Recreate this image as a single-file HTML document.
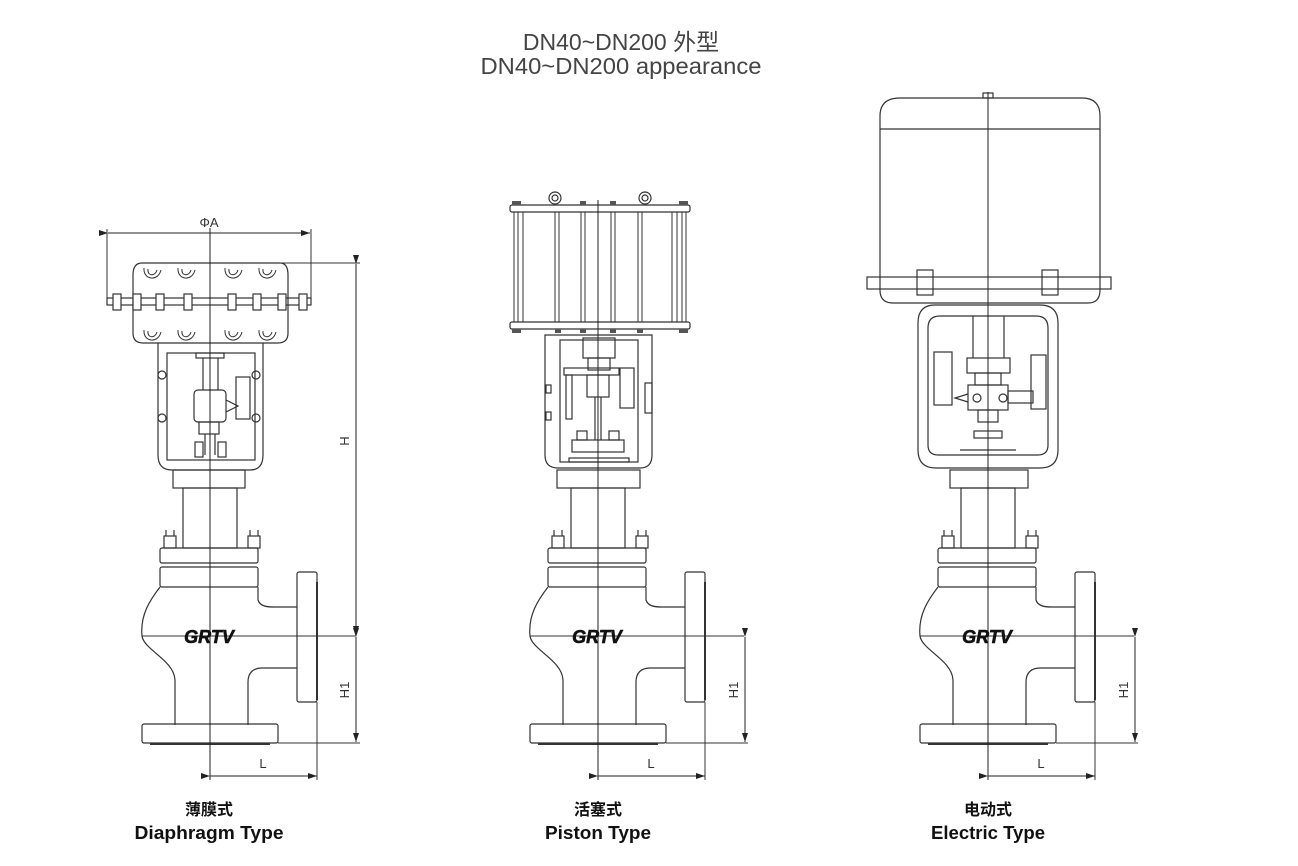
<!DOCTYPE html>
<html><head><meta charset="utf-8"><style>
html,body{margin:0;padding:0;background:#fff;width:1298px;height:866px;overflow:hidden}
svg{display:block}
text{font-family:"Liberation Sans","Noto Sans CJK SC",sans-serif}
</style></head><body>
<svg width="1298" height="866" viewBox="0 0 1298 866" xmlns="http://www.w3.org/2000/svg">
<defs>
<marker id="ar" markerWidth="10" markerHeight="8" refX="9" refY="4" orient="auto" markerUnits="userSpaceOnUse"><path d="M0,1 L9,4 L0,7 Z" fill="#222"/></marker>
<path id="loop" d="M-8,-6 C-9,6 6,8 9,-4 M-4,-5 C-5,2 3,3 5,-4" fill="none" stroke="#333" stroke-width="1"/>
<g id="body" fill="none" stroke="#333" stroke-width="1.2">
  <rect x="-27" y="488" width="54" height="60"/>
  <rect x="-50" y="548" width="98" height="15" rx="2"/>
  <rect x="-46" y="536" width="12" height="12"/><rect x="38" y="536" width="12" height="12"/>
  <line x1="-44" y1="530" x2="-44" y2="536"/><line x1="-36" y1="530" x2="-36" y2="536"/>
  <line x1="40" y1="530" x2="40" y2="536"/><line x1="48" y1="530" x2="48" y2="536"/>
  <rect x="-50" y="567" width="98" height="20" rx="2"/>
  <path d="M-50,587 C-60,600 -70,615 -68,636 C-66,650 -36,660 -35,680 L-35,725"/>
  <path d="M48,587 L48,600 C50,606 56,607 64,607 L87,607"/>
  <path d="M87,668 L52,668 C44,668 38,672 38,682 L38,725"/>
  <rect x="87" y="572" width="20" height="130" rx="2"/>
  <line x1="107" y1="582" x2="107" y2="700" stroke-width="2"/>
  <rect x="-68" y="724" width="136" height="19" rx="2"/>
  <line x1="-60" y1="744" x2="60" y2="744" stroke-width="2"/>
  <line x1="-68" y1="636" x2="146" y2="636" stroke-width="1"/>
  <line x1="107" y1="702" x2="107" y2="780" stroke-width="1"/>
  <line x1="68" y1="743" x2="150" y2="743" stroke-width="1"/>
  <line x1="0" y1="776" x2="107" y2="776" stroke="#222" stroke-width="1" marker-start="url(#ar)" marker-end="url(#ar)"/>
</g>
</defs>

<text x="621" y="50" font-size="23" text-anchor="middle" fill="#444">DN40~DN200 外型</text>
<text x="621" y="74" font-size="23" text-anchor="middle" fill="#444" textLength="281" lengthAdjust="spacingAndGlyphs">DN40~DN200 appearance</text>

<!-- Diaphragm -->
<g transform="translate(210,0)"><use href="#body"/></g>
<g fill="none" stroke="#333" stroke-width="1.2">
  <rect x="173" y="470" width="72" height="18"/>
  <path d="M158,343 L158,455 Q158,470 172,470 L250,470 Q263,470 263,455 L263,343"/>
  <rect x="167" y="353" width="88" height="107"/>
  <rect x="196" y="353" width="28" height="5"/>
  <line x1="203" y1="358" x2="203" y2="390"/><line x1="218" y1="358" x2="218" y2="390"/>
  <rect x="194" y="390" width="32" height="32" rx="4"/>
  <path d="M226,400 L238,406 L226,412"/>
  <rect x="236" y="377" width="14" height="42"/>
  <rect x="199" y="422" width="20" height="12"/>
  <line x1="205" y1="434" x2="205" y2="455"/><line x1="215" y1="434" x2="215" y2="455"/>
  <rect x="195" y="442" width="8" height="15"/><rect x="218" y="442" width="8" height="15"/>
  <circle cx="162" cy="375" r="4"/><circle cx="162" cy="418" r="4"/>
  <circle cx="256" cy="375" r="4"/><circle cx="256" cy="418" r="4"/>
  <path d="M142,263 L280,263 Q288,263 288,275 L288,333 Q288,343 278,343 L143,343 Q133,343 133,333 L133,275 Q133,263 142,263 Z"/>
  <rect x="107" y="298" width="204" height="7"/>
  <g fill="#fff">
   <rect x="113" y="294" width="8" height="16"/><rect x="133" y="294" width="8" height="16"/>
   <rect x="156" y="294" width="8" height="16"/><rect x="184" y="294" width="8" height="16"/>
   <rect x="228" y="294" width="8" height="16"/><rect x="253" y="294" width="8" height="16"/>
   <rect x="278" y="294" width="8" height="16"/><rect x="299" y="294" width="8" height="16"/>
  </g>
  <line x1="107" y1="229" x2="107" y2="300" stroke-width="1"/>
  <line x1="311" y1="229" x2="311" y2="300" stroke-width="1"/>
  <line x1="108" y1="233" x2="310" y2="233" stroke="#222" stroke-width="1" marker-start="url(#ar)" marker-end="url(#ar)"/>
  <line x1="210" y1="263" x2="360" y2="263" stroke-width="1"/>
  <line x1="356" y1="264" x2="356" y2="635" stroke="#222" stroke-width="1" marker-start="url(#ar)" marker-end="url(#ar)"/>
  <line x1="356" y1="637" x2="356" y2="742" stroke="#222" stroke-width="1" marker-start="url(#ar)" marker-end="url(#ar)"/>
  <line x1="210" y1="228" x2="210" y2="780" stroke="#222" stroke-width="1"/>
</g>
<use href="#loop" x="152" y="274"/><use href="#loop" x="186" y="274"/><use href="#loop" x="233" y="274"/><use href="#loop" x="267" y="274"/>
<use href="#loop" x="152" y="336"/><use href="#loop" x="186" y="336"/><use href="#loop" x="233" y="336"/><use href="#loop" x="267" y="336"/>
<text x="209" y="227" font-size="13" text-anchor="middle" fill="#333">ΦA</text>
<text transform="translate(349,441) rotate(-90)" font-size="13" text-anchor="middle" fill="#333">H</text>
<text transform="translate(349,690) rotate(-90)" font-size="13" text-anchor="middle" fill="#333">H1</text>
<text x="263" y="768" font-size="13" text-anchor="middle" fill="#333">L</text>
<text x="209" y="643" font-size="18" font-weight="bold" font-style="italic" text-anchor="middle" fill="#111" stroke="#111" stroke-width="0.6">GRTV</text>

<!-- Piston -->
<g transform="translate(598,0)"><use href="#body"/></g>
<g fill="none" stroke="#333" stroke-width="1.2">
  <rect x="557" y="470" width="83" height="18"/>
  <path d="M545,335 L545,455 Q545,468 558,468 L640,468 Q652,468 652,455 L652,335 Z"/>
  <rect x="560" y="340" width="78" height="122"/>
  <rect x="583" y="338" width="32" height="20"/>
  <rect x="588" y="358" width="22" height="12"/>
  <rect x="564" y="368" width="55" height="7"/>
  <rect x="587" y="375" width="22" height="22"/>
  <rect x="620" y="368" width="14" height="40"/>
  <rect x="566" y="375" width="6" height="44"/>
  <line x1="595" y1="397" x2="595" y2="440"/><line x1="601" y1="397" x2="601" y2="440"/>
  <rect x="572" y="440" width="52" height="12"/>
  <rect x="577" y="431" width="10" height="9"/><rect x="609" y="431" width="10" height="9"/>
  <rect x="569" y="458" width="60" height="4"/>
  <rect x="546" y="385" width="5" height="8"/><rect x="546" y="412" width="5" height="8"/>
  <rect x="645" y="383" width="7" height="30"/>
  <rect x="510" y="205" width="180" height="7" rx="2"/>
  <rect x="510" y="322" width="180" height="7" rx="2"/>
  <g stroke-width="1">
   <line x1="514" y1="212" x2="514" y2="322"/><line x1="518" y1="212" x2="518" y2="322"/><line x1="523" y1="212" x2="523" y2="322"/>
   <line x1="555" y1="212" x2="555" y2="322"/><line x1="559" y1="212" x2="559" y2="322"/>
   <line x1="581" y1="212" x2="581" y2="322"/><line x1="585" y1="212" x2="585" y2="322"/>
   <line x1="611" y1="212" x2="611" y2="322"/><line x1="615" y1="212" x2="615" y2="322"/>
   <line x1="638" y1="212" x2="638" y2="322"/><line x1="642" y1="212" x2="642" y2="322"/>
   <line x1="672" y1="212" x2="672" y2="322"/><line x1="677" y1="212" x2="677" y2="322"/><line x1="682" y1="212" x2="682" y2="322"/><line x1="686" y1="212" x2="686" y2="322"/>
  </g>
  <circle cx="555" cy="198" r="6"/><circle cx="645" cy="198" r="6"/>
  <circle cx="555" cy="198" r="3"/><circle cx="645" cy="198" r="3"/>
  <g fill="#555" stroke="none">
   <rect x="512" y="201" width="9" height="4"/><rect x="679" y="201" width="9" height="4"/>
   <rect x="580" y="201" width="6" height="4"/><rect x="610" y="201" width="6" height="4"/>
   <rect x="512" y="329" width="9" height="4"/><rect x="679" y="329" width="9" height="4"/>
   <rect x="555" y="329" width="6" height="4"/><rect x="580" y="329" width="6" height="4"/>
   <rect x="610" y="329" width="6" height="4"/><rect x="637" y="329" width="6" height="4"/>
  </g>
  <line x1="745" y1="637" x2="745" y2="742" stroke="#222" stroke-width="1" marker-start="url(#ar)" marker-end="url(#ar)"/>
  <line x1="598" y1="200" x2="598" y2="780" stroke="#222" stroke-width="1"/>
</g>
<text transform="translate(738,690) rotate(-90)" font-size="13" text-anchor="middle" fill="#333">H1</text>
<text x="651" y="768" font-size="13" text-anchor="middle" fill="#333">L</text>
<text x="597" y="643" font-size="18" font-weight="bold" font-style="italic" text-anchor="middle" fill="#111" stroke="#111" stroke-width="0.6">GRTV</text>

<!-- Electric -->
<g transform="translate(988,0)"><use href="#body"/></g>
<g fill="none" stroke="#333" stroke-width="1.2">
  <rect x="950" y="470" width="78" height="18"/>
  <path d="M935,305 L1040,305 Q1058,305 1058,323 L1058,450 Q1058,468 1040,468 L936,468 Q918,468 918,450 L918,323 Q918,305 935,305 Z"/>
  <path d="M940,316 L1036,316 Q1048,316 1048,328 L1048,445 Q1048,455 1038,455 L938,455 Q928,455 928,445 L928,328 Q928,316 940,316 Z"/>
  <line x1="973" y1="316" x2="973" y2="358"/><line x1="1004" y1="316" x2="1004" y2="358"/>
  <rect x="967" y="358" width="43" height="15"/>
  <rect x="968" y="385" width="40" height="25"/>
  <rect x="1008" y="391" width="25" height="12"/>
  <rect x="1031" y="355" width="15" height="54"/>
  <rect x="934" y="352" width="18" height="53"/>
  <path d="M968,394 L955,398 L968,402"/>
  <circle cx="977" cy="398" r="4"/><circle cx="1003" cy="398" r="4"/>
  <rect x="975" y="373" width="26" height="12"/><rect x="978" y="410" width="20" height="12"/>
  <rect x="974" y="431" width="28" height="7"/>
  <line x1="960" y1="450" x2="1016" y2="450"/>
  <path d="M900,98 L1082,98 Q1100,98 1100,116 L1100,290 Q1100,303 1088,303 L893,303 Q880,303 880,290 L880,116 Q880,98 900,98 Z"/>
  <line x1="880" y1="129" x2="1100" y2="129"/>
  <rect x="983" y="93" width="10" height="5"/>
  <rect x="867" y="277" width="244" height="12"/>
  <rect x="917" y="270" width="16" height="25"/>
  <rect x="1042" y="270" width="16" height="25"/>
  <line x1="1135" y1="637" x2="1135" y2="742" stroke="#222" stroke-width="1" marker-start="url(#ar)" marker-end="url(#ar)"/>
  <line x1="988" y1="92" x2="988" y2="780" stroke="#222" stroke-width="1"/>
</g>
<text transform="translate(1128,690) rotate(-90)" font-size="13" text-anchor="middle" fill="#333">H1</text>
<text x="1041" y="768" font-size="13" text-anchor="middle" fill="#333">L</text>
<text x="987" y="643" font-size="18" font-weight="bold" font-style="italic" text-anchor="middle" fill="#111" stroke="#111" stroke-width="0.6">GRTV</text>

<g font-weight="bold" fill="#111" text-anchor="middle">
 <text x="209" y="815" font-size="16">薄膜式</text>
 <text x="209" y="839" font-size="18" textLength="149" lengthAdjust="spacingAndGlyphs">Diaphragm Type</text>
 <text x="598" y="815" font-size="16">活塞式</text>
 <text x="598" y="839" font-size="18" textLength="106" lengthAdjust="spacingAndGlyphs">Piston Type</text>
 <text x="988" y="815" font-size="16">电动式</text>
 <text x="988" y="839" font-size="18" textLength="114" lengthAdjust="spacingAndGlyphs">Electric Type</text>
</g>
</svg>
</body></html>
